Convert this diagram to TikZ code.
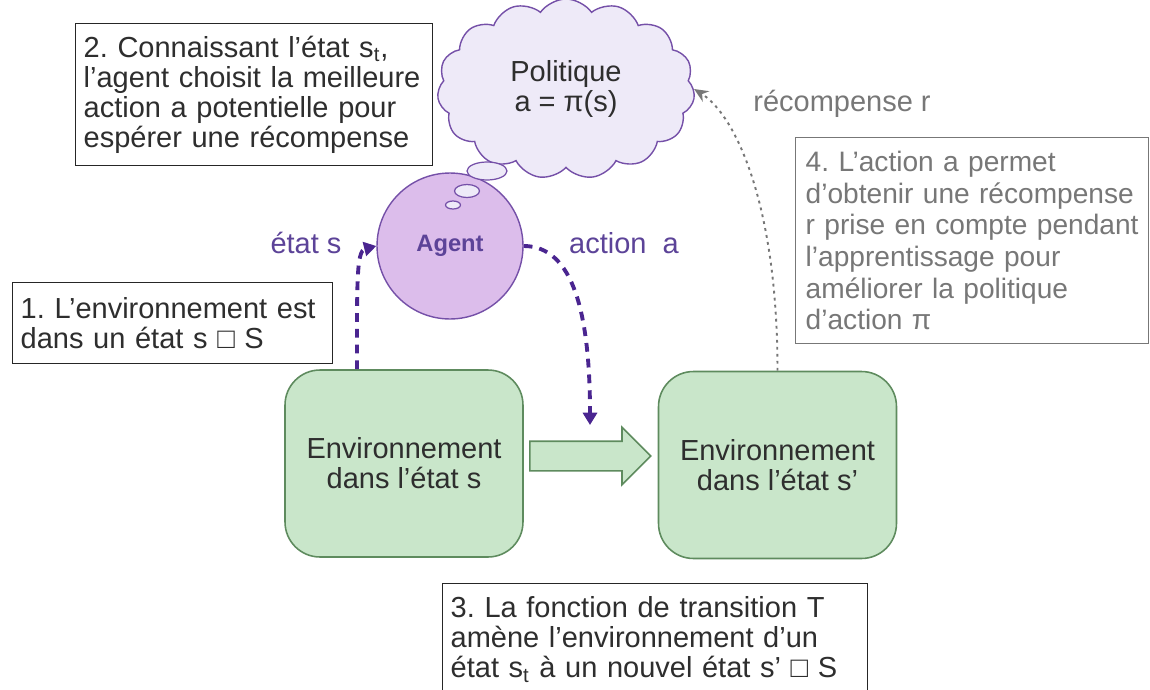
\documentclass[tikz,border=0pt]{standalone}
\usepackage{fontspec}
\setmainfont{Liberation Sans}
\usetikzlibrary{positioning,calc,shapes.symbols,shapes.geometric,shapes.arrows,arrows.meta}

\definecolor{envfill}{HTML}{C9E6CA}
\definecolor{envline}{HTML}{5E8B5E}
\definecolor{agentfill}{HTML}{DCBDEB}
\definecolor{agentline}{HTML}{7550A8}
\definecolor{cloudfill}{HTML}{EEEAF8}
\definecolor{flowpurple}{HTML}{4A2590}
\definecolor{labelpurple}{HTML}{5C4398}
\definecolor{rewardgray}{HTML}{777777}
\definecolor{notetext}{HTML}{2E2E2E}

\newcommand{\notefont}{\fontsize{16.5}{17.1}\selectfont}

\tikzset{
  notebox/.style={draw=black!85, line width=0.8pt, fill=white, align=left,
    anchor=north west, inner xsep=0.16cm, inner ysep=0pt, font=\notefont, text=notetext},
  envbox/.style={draw=envline, line width=0.9pt, fill=envfill, rounded corners=0.7cm,
    minimum width=4.76cm, minimum height=3.74cm, align=center, font=\notefont, text=notetext},
  bubble/.style={ellipse, draw=agentline, line width=0.7pt, fill=cloudfill, inner sep=0pt},
  flow/.style={draw=flowpurple, line width=2.2pt, dash pattern=on 5pt off 4pt,
    -{Triangle[length=7pt,width=8pt]}},
  reward/.style={draw=rewardgray, line width=1.1pt, dash pattern=on 1.6pt off 2.4pt,
    -{Stealth[length=8pt,width=7pt]}},
}

\begin{document}
\frenchspacing
\begin{tikzpicture}[x=0.02cm, y=-0.02cm]
\useasboundingbox (0,0) rectangle (1150,690);

% l'environnement avant et apres la transition
\node[envbox] (env1) at (404,463.5) {Environnement\\dans l'état s};
\node[envbox] (env2) at (777.5,465) {Environnement\\dans l'état s'};
\node[single arrow, draw=envline, fill=envfill, line width=0.9pt, inner xsep=0pt,
  inner ysep=0.28cm, minimum height=2.42cm, single arrow head extend=0.28cm,
  anchor=tail] (trans) at (529,456) {};

% l'agent et sa politique
\node[cloud, cloud puffs=15, cloud puff arc=110, cloud ignores aspect,
  minimum width=5.15cm, minimum height=3.6cm, draw=agentline, fill=cloudfill,
  line width=0.8pt, align=center, font=\notefont, text=notetext] (policy) at (566,89)
  {Politique\\a = π(s)};
\node[circle, draw=agentline, fill=agentfill, line width=0.8pt, minimum size=2.92cm,
  font=\fontsize{13.5}{14}\selectfont\bfseries, text=labelpurple] (agent) at (450,246) {Agent};
\node[bubble, minimum width=0.8cm, minimum height=0.36cm] (b1) at (487,171) {};
\node[bubble, minimum width=0.5cm, minimum height=0.26cm] (b2) at (467,191) {};
\node[bubble, minimum width=0.3cm, minimum height=0.16cm] (b3) at (453,205) {};

% les quatre etapes
\node[notebox, text width=6.82cm, minimum height=2.84cm] (note2) at (75,23)
  {2. Connaissant l'état s\textsubscript{t},\\l'agent choisit la meilleure\\action a potentielle pour\\espérer une récompense};
\node[notebox, text width=6.08cm, minimum height=1.62cm] (note1) at (12,282)
  {1. L'environnement est\\dans un état s □ S};
\node[notebox, text width=8.18cm, minimum height=2.24cm] (note3) at (442,583)
  {3. La fonction de transition T\\amène l'environnement d'un\\état s\textsubscript{t} à un nouvel état s' □ S};
\node[notebox, draw=rewardgray, text=rewardgray, inner xsep=0.2cm, text width=6.66cm,
  minimum height=4.12cm, font=\fontsize{16}{18}\selectfont] (note4) at (795,137)
  {4. L'action a permet\\d'obtenir une récompense\\r prise en compte pendant\\l'apprentissage pour\\améliorer la politique\\d'action π};

% etiquettes des fleches
\node[font=\notefont, text=labelpurple] (lstate) at (306,243) {état s};
\node[font=\notefont, text=labelpurple] (laction) at (624,243) {action\ \ a};
\node[font=\notefont, text=rewardgray] (lreward) at (842,104) {récompense r};

% etat, action, recompense
\coordinate (act) at (590,425);
\draw[flow] ($(env1.north)+(-47,0)$) .. controls +(0,-85) and +(-20,5) .. (agent.west);
\draw[flow] (agent.east) .. controls +(50,0) and +(0,-110) .. (act);
\draw[reward] (env2.north) .. controls +(0,-170) and +(40,25) .. (policy.east);
\end{tikzpicture}
\end{document}
